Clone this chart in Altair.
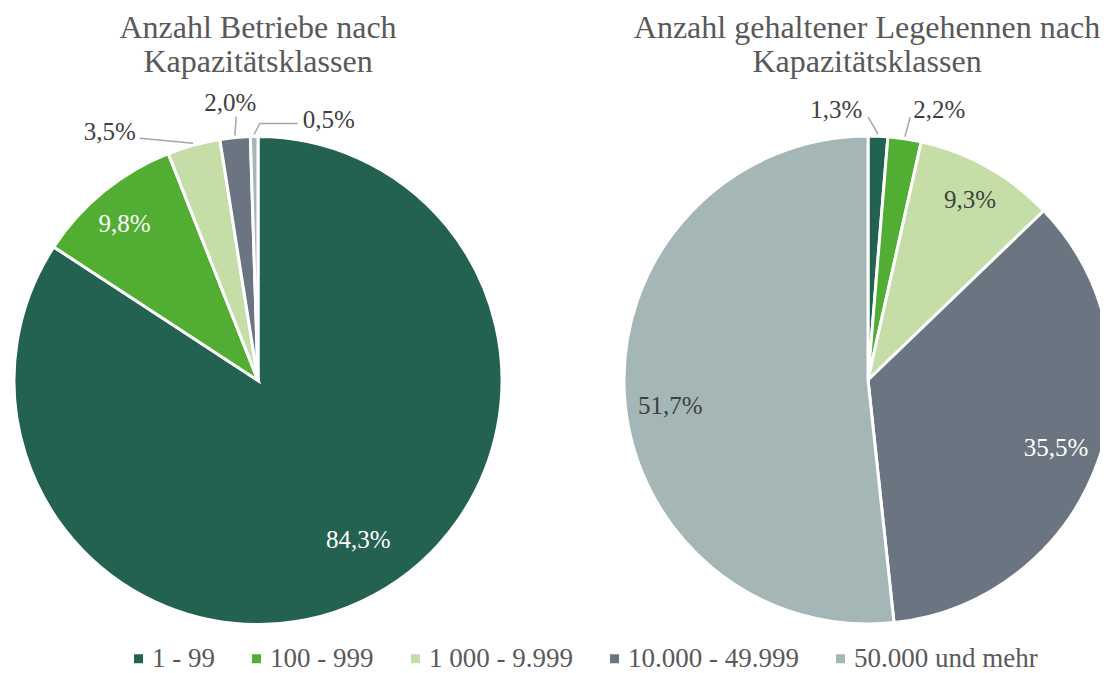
import altair as alt
import pandas as pd

# ---------------- data ----------------
categories = ["1 - 99", "100 - 999", "1 000 - 9.999", "10.000 - 49.999", "50.000 und mehr"]
betriebe = [84.3, 9.8, 3.5, 2.0, 0.5]          # % Anzahl Betriebe
legehennen = [1.3, 2.2, 9.3, 35.5, 51.7]       # % Anzahl gehaltener Legehennen
pies = ["Betriebe", "Legehennen"]
titles = ["Anzahl Betriebe nach\nKapazitätsklassen",
          "Anzahl gehaltener Legehennen nach\nKapazitätsklassen"]
colors = ["#236150", "#52ae32", "#c5dea8", "#6b7481", "#a4b7b6"]

rows = []
for pie, vals in zip(pies, [betriebe, legehennen]):
    for i, (c, v) in enumerate(zip(categories, vals)):
        rows.append({"pie": pie, "cat": c, "idx": i, "value": v})
df = pd.DataFrame(rows)
title_df = pd.DataFrame({"pie": pies, "title": titles})

# ---------------- layout / style ----------------
W, H = 1092, 665
R = 244
CENTERS = {"Betriebe": (250, 372.5), "Legehennen": (860, 372)}
TITLE_X = {"Betriebe": 250, "Legehennen": 859}
FONT = "Liberation Serif"
DARK = "#404040"
WHITE = "#ffffff"
GREY = "#595959"

color_scale = alt.Scale(domain=categories, range=colors)
legend = alt.Legend(orient="none", legendX=117, legendY=637, direction="horizontal",
                    title=None, symbolType="square", symbolSize=81, symbolStrokeWidth=0,
                    labelFont=FONT, labelFontSize=27, labelColor=GREY, columnPadding=28,
                    labelOffset=0, padding=0, labelLimit=400)


def prepared(pie):
    return (alt.Chart(df)
            .transform_filter(alt.datum.pie == pie)
            .transform_window(cum="sum(value)", sort=[alt.SortField("idx")])
            .transform_joinaggregate(total="sum(value)")
            .transform_calculate(
                mid="(datum.cum - datum.value / 2) / datum.total * 2 * PI",
                lab="replace(format(datum.value, '.1f'), '.', ',') + '%'"))


def arc_layer(pie):
    cx, cy = CENTERS[pie]
    return (alt.Chart(df)
            .transform_filter(alt.datum.pie == pie)
            .mark_arc(radius=R, stroke="white", strokeWidth=3)
            .encode(theta=alt.Theta("value:Q", stack=True),
                    order=alt.Order("idx:Q"),
                    color=alt.Color("cat:N", scale=color_scale, legend=legend, sort=categories),
                    x=alt.value(cx), y=alt.value(cy)))


def label_layer(pie, cat, rl, dx, dy, col):
    cx, cy = CENTERS[pie]
    return (prepared(pie)
            .transform_filter(alt.datum.cat == cat)
            .mark_text(radius=rl, dx=dx, dy=dy, font=FONT, fontSize=25, color=col,
                       align="center", baseline="middle")
            .encode(theta=alt.Theta("mid:Q", scale=None), text="lab:N",
                    x=alt.value(cx), y=alt.value(cy)))


def leader_layers(pie, cat, rl, dx, dy, pts):
    cx, cy = CENTERS[pie]
    base = (prepared(pie)
            .transform_filter(alt.datum.cat == cat)
            .transform_calculate(
                p0x=f"{cx} + {R + 2} * sin(datum.mid)",
                p0y=f"{cy} - {R + 2} * cos(datum.mid)",
                lx=f"{cx} + {rl} * sin(datum.mid) + {dx}",
                ly=f"{cy} - {rl} * cos(datum.mid) + {dy}"))
    out = []
    prev = ("datum.p0x", "datum.p0y")
    for (ox, oy) in pts:
        cur = (f"datum.lx + {ox}", f"datum.ly + {oy}")
        out.append(base.transform_calculate(ax=prev[0], ay=prev[1], bx=cur[0], by=cur[1])
                   .mark_rule(color="#a6a6a6", strokeWidth=1.5)
                   .encode(x=alt.X("ax:Q", scale=None, axis=None), x2="bx:Q",
                           y=alt.Y("ay:Q", scale=None, axis=None), y2="by:Q"))
        prev = cur
    return out


def title_layer(pie):
    return (alt.Chart(title_df)
            .transform_filter(alt.datum.pie == pie)
            .mark_text(lineBreak="\n", lineHeight=34, font=FONT, fontSize=32, color=GREY,
                       align="center", baseline="alphabetic")
            .encode(text="title:N", x=alt.value(TITLE_X[pie]), y=alt.value(30)))


# label settings: (pie, category, radius, dx, dy, colour, leader offsets)
label_specs = [
    ("Betriebe", "1 - 99", 200, 5, -16, WHITE, None),
    ("Betriebe", "100 - 999", 200, -7, -2, WHITE, None),
    ("Betriebe", "1 000 - 9.999", 274, -76, 16, DARK, [(30, 6)]),
    ("Betriebe", "10.000 - 49.999", 274, -2, -5, DARK, [(6, 14)]),
    ("Betriebe", "50.000 und mehr", 274, 75, 13, DARK, [(-69, 4), (-31, 4)]),
    ("Legehennen", "1 - 99", 274, -43, 4, DARK, [(32, 7)]),
    ("Legehennen", "100 - 999", 274, 30, 1, DARK, [(-29, 7)]),
    ("Legehennen", "1 000 - 9.999", 200, 4, -6, DARK, None),
    ("Legehennen", "10.000 - 49.999", 200, 0, 0, WHITE, None),
    ("Legehennen", "50.000 und mehr", 200, 2, 15, DARK, None),
]

layers = [arc_layer(p) for p in pies]
for pie, cat, rl, dx, dy, col, pts in label_specs:
    if pts:
        layers += leader_layers(pie, cat, rl, dx, dy, pts)
    layers.append(label_layer(pie, cat, rl, dx, dy, col))
layers += [title_layer(p) for p in pies]

chart = (alt.layer(*layers)
         .resolve_scale(theta="independent")
         .properties(width=W, height=H, padding=0,
                     autosize=alt.AutoSizeParams(type="none"))
         .configure_view(stroke=None))

chart.save("out.html", embed_options={"renderer": "svg", "actions": False})
